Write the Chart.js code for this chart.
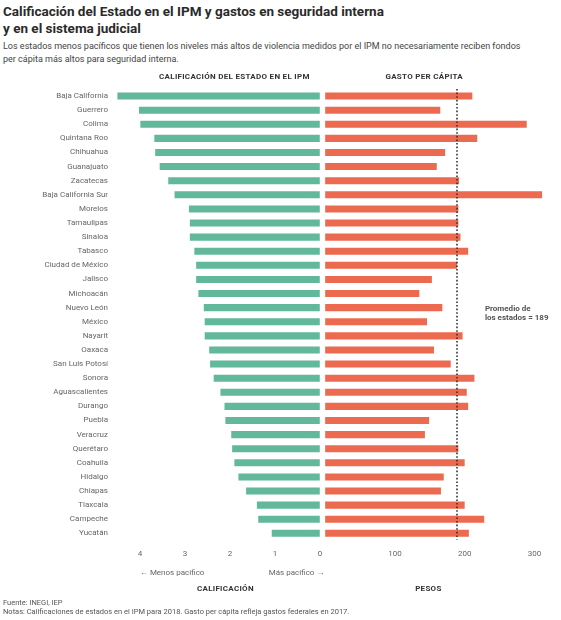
<!DOCTYPE html>
<html>
<head>
<meta charset="utf-8">
<script src="https://cdn.jsdelivr.net/npm/chart.js@4.4.0/dist/chart.umd.min.js"></script>
<style>
  body { margin: 0; width: 561px; height: 620px; position: relative; background: #fff; font-family: Roboto, sans-serif; overflow: hidden; }
  canvas { position: absolute; left: 0; top: 0; }
  h1 { position: absolute; left: 3px; top: 3px; margin: 0; font-size: 13.5px; line-height: 17px; font-weight: 700; color: #2a2a2a; }
  .sub { position: absolute; left: 3px; top: 40px; margin: 0; font-size: 9px; line-height: 13px; color: #444; }
  .foot { position: absolute; left: 3px; top: 598px; margin: 0; font-size: 7.5px; line-height: 9px; color: #555; }
</style>
</head>
<body>
<h1>Calificación del Estado en el IPM y gastos en seguridad interna<br>y en el sistema judicial</h1>
<p class="sub">Los estados menos pacíficos que tienen los niveles más altos de violencia medidos por el IPM no necesariamente reciben fondos<br>per cápita más altos para seguridad interna.</p>
<canvas id="chart" width="561" height="620"></canvas>
<p class="foot">Fuente: INEGI, IEP<br>Notas: Calificaciones de estados en el IPM para 2018. Gasto per cápita refleja gastos federales en 2017.</p>
<script>
const states = [
  "Baja California", "Guerrero", "Colima", "Quintana Roo", "Chihuahua", "Guanajuato",
  "Zacatecas", "Baja California Sur", "Morelos", "Tamaulipas", "Sinaloa", "Tabasco",
  "Ciudad de México", "Jalisco", "Michoacán", "Nuevo León", "México", "Nayarit",
  "Oaxaca", "San Luis Potosí", "Sonora", "Aguascalientes", "Durango", "Puebla",
  "Veracruz", "Querétaro", "Coahuila", "Hidalgo", "Chiapas", "Tlaxcala", "Campeche", "Yucatán"
];
// IPM score (higher = less peaceful)
const ipmScores = [
  4.50, 4.02, 3.99, 3.68, 3.66, 3.56,
  3.37, 3.23, 2.91, 2.89, 2.89, 2.79,
  2.75, 2.75, 2.70, 2.58, 2.56, 2.56,
  2.46, 2.44, 2.36, 2.21, 2.12, 2.10,
  1.97, 1.95, 1.90, 1.81, 1.64, 1.40, 1.37, 1.07
];
// federal spending per capita, pesos
const spendPerCapita = [
  211, 165, 289, 218, 172, 160,
  192, 311, 191, 191, 194, 205,
  189, 153, 135, 168, 146, 197,
  156, 180, 214, 203, 205, 149,
  143, 191, 200, 170, 166, 200, 228, 206
];
const ipmTicks = [0, 1, 2, 3, 4];
const pesoTicks = [100, 200, 300];
const stateAverage = 189;

const GREEN = "#62b89a";
const ORANGE = "#ec6a4f";
const FONT = "Roboto";

function drawText(ctx, text, x, y, align, font, color) {
  ctx.font = font;
  ctx.fillStyle = color;
  ctx.textAlign = align;
  ctx.textBaseline = "middle";
  ctx.fillText(text, x, y);
}

const extras = {
  id: "extras",
  afterDatasetsDraw(chart) {
    const { ctx, chartArea, scales } = chart;
    const xl = scales.x, xr = scales.x2, y = scales.y;

    // dotted line for the average of the states
    const ax = xr.getPixelForValue(stateAverage);
    ctx.save();
    ctx.strokeStyle = "#333";
    ctx.lineWidth = 1.6;
    ctx.setLineDash([1.6, 2]);
    ctx.beginPath();
    ctx.moveTo(ax, chartArea.top);
    ctx.lineTo(ax, chartArea.bottom - 1);
    ctx.stroke();
    ctx.setLineDash([]);

    const bold = "bold 8px " + FONT;
    const reg = "8px " + FONT;
    drawText(ctx, "Promedio de", xr.getPixelForValue(229), y.getPixelForValue(15.08), "left", bold, "#555");
    drawText(ctx, "los estados = 189", xr.getPixelForValue(229), y.getPixelForValue(15.74), "left", bold, "#555");

    // column headers
    ctx.letterSpacing = "0.3px";
    drawText(ctx, "CALIFICACIÓN DEL ESTADO EN EL IPM", xl.getPixelForValue(1.9), chartArea.top - 12, "center", bold, "#333");
    drawText(ctx, "GASTO PER CÁPITA", xr.getPixelForValue(142), chartArea.top - 12, "center", bold, "#333");

    // bottom labels
    drawText(ctx, "CALIFICACIÓN", xl.getPixelForValue(2.1), chartArea.bottom + 49, "center", bold, "#333");
    drawText(ctx, "PESOS", xr.getPixelForValue(148), chartArea.bottom + 49, "center", bold, "#333");
    ctx.letterSpacing = "0px";
    drawText(ctx, "← Menos pacífico", xl.getPixelForValue(4), chartArea.bottom + 33, "left", reg, "#666");
    drawText(ctx, "Más pacífico →", xl.getPixelForValue(-0.1), chartArea.bottom + 33, "right", reg, "#666");
    ctx.restore();
  }
};

const tickFont = { family: FONT, size: 8 };

new Chart(document.getElementById("chart"), {
  type: "bar",
  data: {
    labels: states,
    datasets: [
      {
        label: "Calificación",
        data: ipmScores,
        xAxisID: "x",
        backgroundColor: GREEN,
        grouped: false,
        categoryPercentage: 1,
        barPercentage: 0.5
      },
      {
        label: "Gasto per cápita",
        data: spendPerCapita,
        xAxisID: "x2",
        backgroundColor: ORANGE,
        grouped: false,
        categoryPercentage: 1,
        barPercentage: 0.5
      }
    ]
  },
  options: {
    indexAxis: "y",
    responsive: false,
    animation: false,
    layout: { padding: { top: 89, bottom: 52, right: 11, left: 0 } },
    plugins: {
      legend: { display: false },
      tooltip: { enabled: false }
    },
    scales: {
      y: {
        type: "category",
        grid: { display: false, drawTicks: false },
        border: { display: false },
        ticks: { color: "#666", font: tickFont, padding: 4, autoSkip: false },
        afterFit(scale) { scale.width = 112; }
      },
      x: {
        type: "linear",
        axis: "x",
        position: "bottom",
        stack: "cols",
        stackWeight: 208,
        reverse: true,
        min: 0,
        max: 4.62,
        grid: { display: false, drawTicks: false },
        border: { display: false },
        ticks: { stepSize: 1, includeBounds: false, color: "#666", font: tickFont, padding: 9 },
        afterBuildTicks(scale) { scale.ticks = scale.ticks.filter(t => ipmTicks.includes(t.value)); }
      },
      x2: {
        type: "linear",
        axis: "x",
        position: "bottom",
        stack: "cols",
        stackWeight: 230,
        min: -7.6,
        max: 322,
        grid: { display: false, drawTicks: false },
        border: { display: false },
        ticks: { stepSize: 100, includeBounds: false, color: "#666", font: tickFont, padding: 9 },
        afterBuildTicks(scale) { scale.ticks = scale.ticks.filter(t => pesoTicks.includes(t.value)); }
      }
    }
  },
  plugins: [extras]
});
</script>
</body>
</html>
